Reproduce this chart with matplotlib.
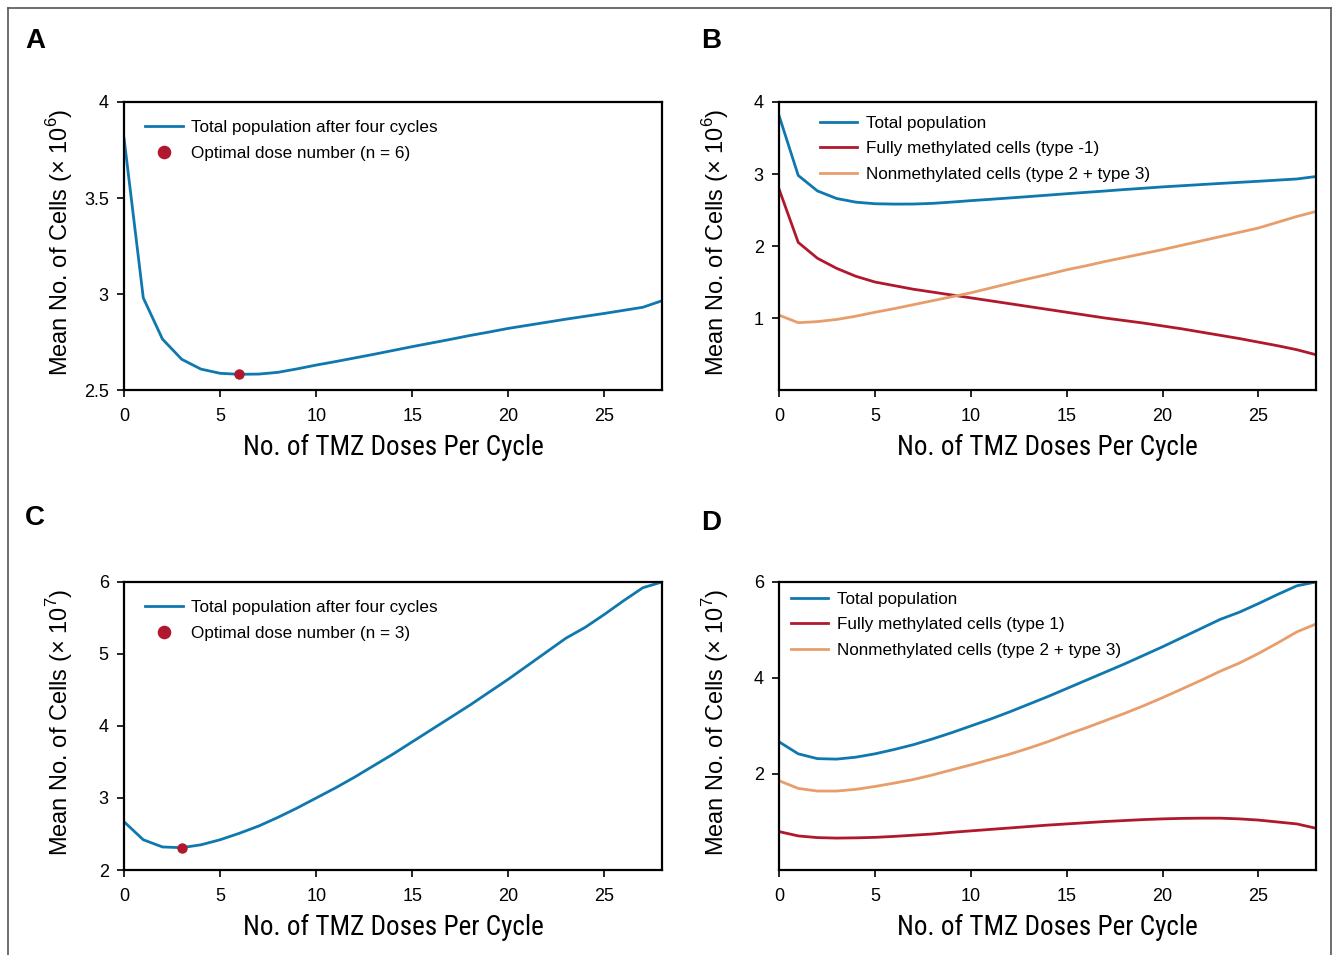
import matplotlib
matplotlib.use('Agg')
import matplotlib.pyplot as plt
from matplotlib.lines import Line2D
from matplotlib import font_manager

plt.rcParams['font.family'] = ['Liberation Sans', 'DejaVu Sans']
plt.rcParams['mathtext.fontset'] = 'custom'
plt.rcParams['mathtext.rm'] = 'Liberation Sans'

# doses per cycle
doses = list(range(29))

# panel A / B: total population (x 10^6)
total_ab = [3.81, 2.98, 2.765, 2.66, 2.609, 2.587, 2.582, 2.583, 2.592, 2.61,
            2.63, 2.648, 2.667, 2.686, 2.706, 2.726, 2.745, 2.764, 2.784, 2.802,
            2.821, 2.837, 2.853, 2.869, 2.884, 2.899, 2.915, 2.931, 2.965]
opt_a = 6
# panel B: fully methylated (type -1) and nonmethylated (type 2 + type 3)
meth_b = [2.79, 2.05, 1.83, 1.69, 1.58, 1.50, 1.45, 1.40, 1.36, 1.32,
          1.28, 1.24, 1.20, 1.16, 1.12, 1.08, 1.04, 1.00, 0.965, 0.93,
          0.89, 0.85, 0.805, 0.76, 0.715, 0.665, 0.615, 0.56, 0.49]
nonmeth_b = [1.04, 0.935, 0.95, 0.98, 1.025, 1.08, 1.13, 1.185, 1.24, 1.295,
             1.35, 1.415, 1.48, 1.545, 1.605, 1.67, 1.725, 1.785, 1.84, 1.895,
             1.95, 2.01, 2.07, 2.13, 2.19, 2.25, 2.33, 2.41, 2.48]

# panel C / D: total population (x 10^7)
total_cd = [2.67, 2.42, 2.32, 2.31, 2.35, 2.42, 2.51, 2.61, 2.73, 2.86,
            3.0, 3.14, 3.29, 3.45, 3.61, 3.78, 3.95, 4.12, 4.29, 4.47,
            4.65, 4.84, 5.03, 5.22, 5.37, 5.55, 5.74, 5.92, 6.0]
opt_c = 3
meth_d = [0.80, 0.71, 0.675, 0.665, 0.67, 0.68, 0.70, 0.725, 0.75, 0.785,
          0.815, 0.845, 0.875, 0.905, 0.935, 0.96, 0.985, 1.01, 1.03, 1.05,
          1.065, 1.075, 1.08, 1.08, 1.065, 1.04, 1.0, 0.96, 0.87]
nonmeth_d = [1.86, 1.70, 1.645, 1.645, 1.68, 1.74, 1.81, 1.885, 1.98, 2.085,
             2.19, 2.30, 2.41, 2.535, 2.67, 2.82, 2.96, 3.11, 3.26, 3.42,
             3.59, 3.77, 3.95, 4.14, 4.31, 4.51, 4.73, 4.96, 5.125]

blue = '#0f78ae'
red = '#b0182e'
orange = '#e89e6c'

# pick a narrow face for the x labels if one is around
names = {f.name for f in font_manager.fontManager.ttflist}
narrow = [n for n in ['Liberation Sans Narrow', 'DejaVu Sans Condensed', 'Roboto Condensed']
          if n in names] + ['DejaVu Sans']

fig = plt.figure(figsize=(13.34, 9.55), dpi=100)

# axes boxes in figure fractions
axA = fig.add_axes([0.0930, 0.5916, 0.4033, 0.3016])
axB = fig.add_axes([0.5840, 0.5916, 0.4025, 0.3016])
axC = fig.add_axes([0.0930, 0.0890, 0.4033, 0.3016])
axD = fig.add_axes([0.5840, 0.0890, 0.4025, 0.3016])


def style(ax, ylim, yticks, ylabels, power):
    ax.set_xlim(0, 28)
    ax.set_ylim(*ylim)
    ax.set_xticks([0, 5, 10, 15, 20, 25])
    ax.set_yticks(yticks)
    ax.set_yticklabels(ylabels)
    ax.tick_params(direction='out', length=5, width=1.2, labelsize=13,
                   top=False, right=False)
    ax.tick_params(axis='x', pad=8)
    ax.tick_params(axis='y', pad=6)
    for s in ax.spines.values():
        s.set_linewidth(1.6)
    ax.set_xlabel('No. of TMZ Doses Per Cycle', family=narrow, fontstretch='condensed',
                  fontsize=19.5, va='center')
    ax.xaxis.set_label_coords(0.5, -0.2)
    ax.set_ylabel(r'Mean No. of Cells ($\times$ 10$^{%d}$)' % power, fontsize=17, va='center')
    ax.yaxis.set_label_coords(-0.119, 0.512)


def legend(ax, anchor):
    ax.legend(loc='upper left', bbox_to_anchor=anchor, frameon=False, fontsize=12.3,
              borderpad=0, borderaxespad=0, handlelength=2.2, handletextpad=0.5,
              labelspacing=0.62, markerscale=1.35)


# A
axA.plot(doses, total_ab, color=blue, lw=2, label='Total population after four cycles')
axA.plot(opt_a, total_ab[opt_a], 'o', color=red, ms=6.5, label='Optimal dose number (n = 6)')
style(axA, (2.5, 4), [2.5, 3, 3.5, 4], ['2.5', '3', '3.5', '4'], 6)
legend(axA, (0.039, 0.937))

# B
axB.plot(doses, total_ab, color=blue, lw=2, label='Total population')
axB.plot(doses, meth_b, color=red, lw=2, label='Fully methylated cells (type -1)')
axB.plot(doses, nonmeth_b, color=orange, lw=2, label='Nonmethylated cells (type 2 + type 3)')
style(axB, (0, 4), [1, 2, 3, 4], ['1', '2', '3', '4'], 6)
legend(axB, (0.076, 0.953))

# C
axC.plot(doses, total_cd, color=blue, lw=2, label='Total population after four cycles')
axC.plot(opt_c, total_cd[opt_c], 'o', color=red, ms=6.5, label='Optimal dose number (n = 3)')
style(axC, (2, 6), [2, 3, 4, 5, 6], ['2', '3', '4', '5', '6'], 7)
legend(axC, (0.039, 0.937))

# D
axD.plot(doses, total_cd, color=blue, lw=2, label='Total population')
axD.plot(doses, meth_d, color=red, lw=2, label='Fully methylated cells (type 1)')
axD.plot(doses, nonmeth_d, color=orange, lw=2, label='Nonmethylated cells (type 2 + type 3)')
style(axD, (0, 6), [2, 4, 6], ['2', '4', '6'], 7)
legend(axD, (0.022, 0.966))

# panel letters
for letter, x, y in [('A', 35, 41), ('B', 711, 41), ('C', 35, 518), ('D', 711, 523)]:
    fig.text(x / 1334, 1 - y / 955, letter, fontsize=20, fontweight='bold',
             ha='center', va='center')

# outer frame (left, top, right)
fc = '#555555'
fig.add_artist(Line2D([8 / 1334, 8 / 1334], [0, 1 - 8 / 955], color=fc, lw=1.2))
fig.add_artist(Line2D([8 / 1334, 1331 / 1334], [1 - 8 / 955, 1 - 8 / 955], color=fc, lw=1.2))
fig.add_artist(Line2D([1331 / 1334, 1331 / 1334], [0, 1 - 8 / 955], color=fc, lw=1.2))

fig.savefig('out.png', dpi=100)
